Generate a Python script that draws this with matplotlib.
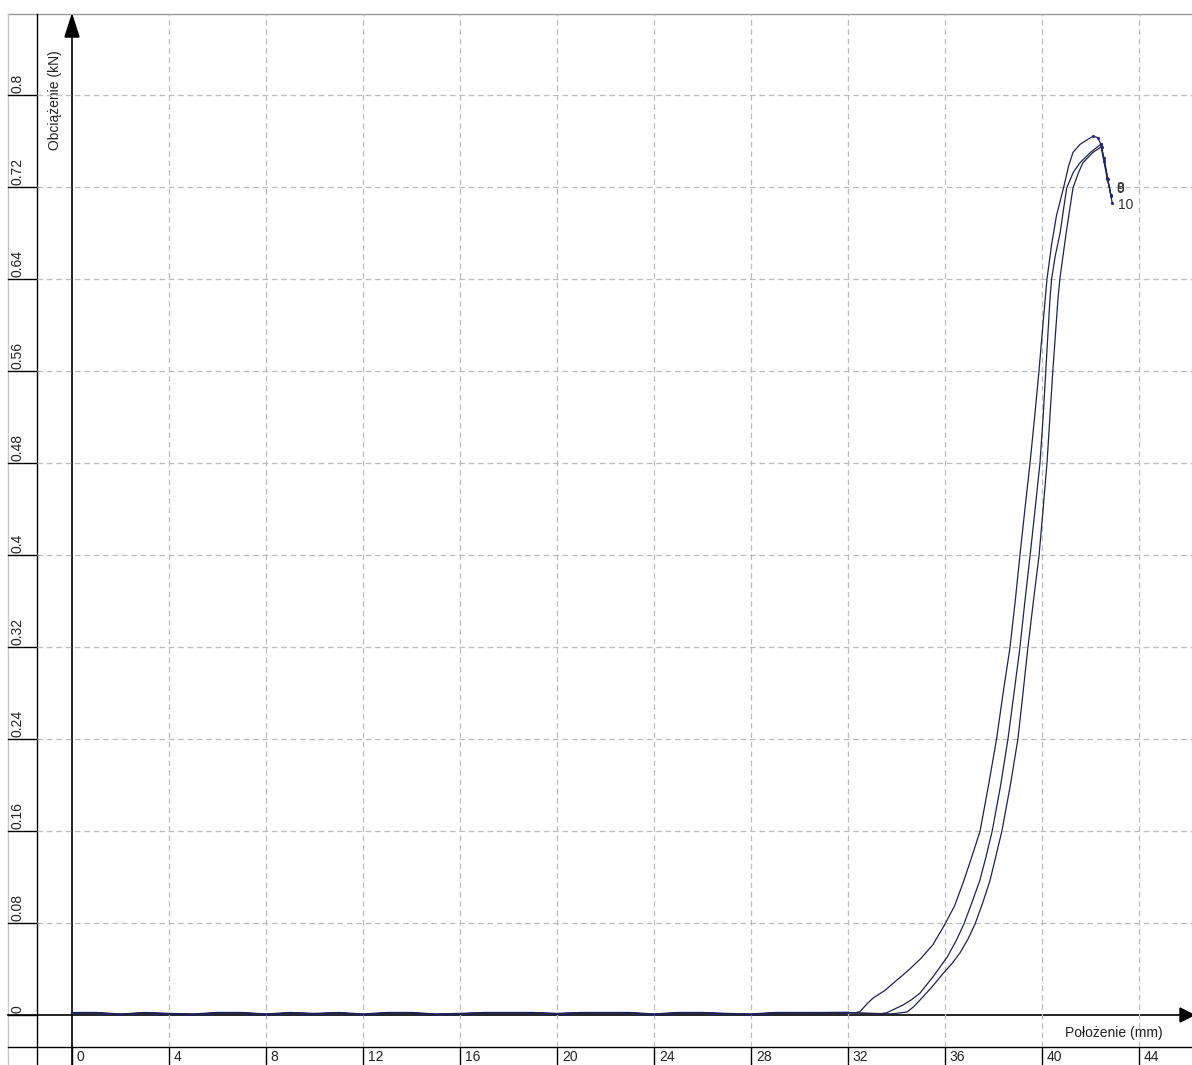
# Load-displacement curves (Obciążenie vs Położenie), testing machine style plot

import matplotlib
matplotlib.use("Agg")
import matplotlib.pyplot as plt
from matplotlib.transforms import blended_transform_factory
from matplotlib.patches import Polygon

plt.rcParams['font.family'] = ['Liberation Sans', 'DejaVu Sans']

# Data

x_ticks = [0, 4, 8, 12, 16, 20, 24, 28, 32, 36, 40, 44]
y_ticks = [0, 0.08, 0.16, 0.24, 0.32, 0.4, 0.48, 0.56, 0.64, 0.72, 0.8]
y_tick_labels = ['0', '0.08', '0.16', '0.24', '0.32', '0.4', '0.48', '0.56', '0.64', '0.72', '0.8']

# flat part before contact (small noise around zero)
base_x = [0, 1, 2, 3, 4, 5, 6, 7, 8, 9, 10, 11, 12, 13, 14, 15, 16, 17, 18, 19,
          20, 21, 22, 23, 24, 25, 26, 27, 28, 29, 30, 31, 32]
base_y = [0.0018, 0.0018, 0.0005, 0.0018, 0.001, 0.0005, 0.0018, 0.0018, 0.0005, 0.0018,
          0.001, 0.0018, 0.0005, 0.0018, 0.0018, 0.0005, 0.001, 0.0018, 0.0018, 0.0018,
          0.001, 0.0018, 0.0018, 0.0018, 0.0005, 0.0018, 0.0018, 0.001, 0.0005, 0.0018,
          0.0018, 0.0018, 0.002]

# specimen 8
c1_x = [32.3, 32.5, 32.8, 33.05, 33.5, 34.0, 34.5, 35.0, 35.5, 35.95, 36.4, 36.75, 37.1,
        37.45, 37.8, 38.13, 38.4, 38.68, 38.9, 39.09, 39.3, 39.51, 39.7, 39.88, 40.04, 40.21,
        40.4, 40.6, 40.9, 41.1, 41.28, 41.57, 41.86, 42.1, 42.31,
        42.43, 42.55, 42.7, 42.85]
c1_y = [0.002, 0.003, 0.01, 0.015, 0.021, 0.03, 0.039, 0.049, 0.061, 0.077, 0.095, 0.115, 0.137,
        0.16, 0.2, 0.24, 0.28, 0.319, 0.36, 0.399, 0.44, 0.48, 0.52, 0.56, 0.60, 0.64,
        0.67, 0.695, 0.72, 0.738, 0.750, 0.757, 0.761, 0.764, 0.763,
        0.757, 0.743, 0.727, 0.713]

# specimen 9
c2_x = [33.3, 33.6, 33.9, 34.27, 34.6, 34.97, 35.5, 36.08, 36.45, 36.78, 37.1, 37.44, 37.7,
        37.95, 38.3, 38.6, 38.85, 39.09, 39.3, 39.51, 39.72, 39.92, 40.05, 40.16, 40.33, 40.4,
        40.55, 40.75, 41.02, 41.3, 41.57, 42.0, 42.42,
        42.55, 42.7, 42.85]
c2_y = [0.001, 0.002, 0.005, 0.0087, 0.013, 0.019, 0.033, 0.05, 0.064, 0.079, 0.097, 0.117, 0.138,
        0.16, 0.2, 0.24, 0.28, 0.319, 0.36, 0.399, 0.44, 0.48, 0.52, 0.56, 0.622, 0.64,
        0.66, 0.68, 0.719, 0.733, 0.741, 0.75, 0.757,
        0.745, 0.728, 0.712]

# specimen 10
c3_x = [33.8, 34.0, 34.2, 34.43, 34.7, 34.97, 35.45, 35.92, 36.3, 36.62, 36.95, 37.24, 37.55,
        37.86, 38.1, 38.35, 38.7, 39.01, 39.22, 39.42, 39.65, 39.88, 40.05, 40.21, 40.33, 40.45,
        40.66, 40.74, 40.87, 41.0, 41.28, 41.5, 41.69, 42.1, 42.46,
        42.58, 42.72, 42.9]
c3_y = [0.001, 0.0015, 0.002, 0.0026, 0.007, 0.013, 0.024, 0.036, 0.045, 0.054, 0.066, 0.079, 0.097,
        0.117, 0.138, 0.16, 0.2, 0.24, 0.28, 0.319, 0.36, 0.399, 0.44, 0.48, 0.52, 0.56,
        0.622, 0.64, 0.66, 0.68, 0.719, 0.732, 0.741, 0.75, 0.755,
        0.743, 0.727, 0.706]

curves = [(c1_x, c1_y, '8'), (c2_x, c2_y, '9'), (c3_x, c3_y, '10')]
label_offsets = {'8': (4, 5), '9': (4, 5), '10': (4.5, -1.5)}

# Figure layout (pixels)

W, H = 1192, 1065
fig = plt.figure(figsize=(W / 100, H / 100), dpi=100)

frame = fig.add_axes([0, 0, 1, 1])
frame.set_xlim(0, W)
frame.set_ylim(H, 0)
frame.axis('off')

L, R, T, B = 37, 1192, 14, 1047
ax = fig.add_axes([L / W, 1 - B / H, (R - L) / W, (B - T) / H])
ax.set_xlim(-1.443, 46.19)
ax.set_ylim(-0.0278, 0.8704)
ax.axis('off')

trans_y = blended_transform_factory(frame.transData, ax.transData)
trans_x = blended_transform_factory(ax.transData, frame.transData)

grid_kw = dict(color='#bdbdbd', lw=0.9, dashes=(4.5, 3))
for xv in x_ticks[1:]:
    ax.axvline(xv, **grid_kw)
for yv in y_ticks[1:]:
    ax.axhline(yv, **grid_kw)

# outer frame and tick strips
frame.plot([8, W], [14, 14], color='#9a9a9a', lw=1)
frame.plot([8, 8], [14, H], color='#c8c8c8', lw=1)
frame.plot([37, 37], [14, H], color='k', lw=1)
frame.plot([8, W], [1047, 1047], color='k', lw=1)

for yv, lab in zip(y_ticks, y_tick_labels):
    frame.plot([8, 37], [yv, yv], color='k', lw=1, transform=trans_y)
    frame.text(18, yv + 0.002, lab, rotation=90, ha='center', va='bottom',
               fontsize=10, color='#222222', transform=trans_y)

for xv in x_ticks:
    frame.plot([xv, xv], [1047, H], color='k', lw=1, transform=trans_x)
    frame.text(xv + 0.2, 1050, str(xv), ha='left', va='top',
               fontsize=10, color='#222222', transform=trans_x)

# axes with arrows
ox, oy_disp = ax.transData.transform((0, 0))
oy = H - oy_disp
frame.plot([0, 0], [16, H], color='k', lw=1.2, transform=trans_x)
frame.plot([8, 1185], [0, 0], color='k', lw=1.2, transform=trans_y)
frame.add_patch(Polygon([(ox, 15), (ox - 7, 37), (ox + 7, 37)], closed=True, color='k'))
frame.add_patch(Polygon([(1194, oy), (1180, oy - 7), (1180, oy + 7)], closed=True, color='k'))

frame.text(55, 50, 'Obciążenie (kN)', rotation=90, ha='center', va='top',
           fontsize=10, color='#222222')
frame.text(1163, 1033, 'Położenie (mm)', ha='right', va='center',
           fontsize=10, color='#222222')

# curves
ax.plot(base_x, base_y, color='#1e1e8c', lw=1.6)
for cx, cy, name in curves:
    ax.plot(base_x + cx, base_y + cy, color='#22224a', lw=0.9)
    k = cy.index(max(cy))
    ax.plot(cx[k:], cy[k:], color='#2a2a80', lw=0, marker='.', markersize=2.5)
    ax.annotate(name, (cx[-1], cy[-1]), xytext=label_offsets[name],
                textcoords='offset points', ha='left', va='center',
                fontsize=10, color='#333333')

fig.savefig('out.png', dpi=100)
